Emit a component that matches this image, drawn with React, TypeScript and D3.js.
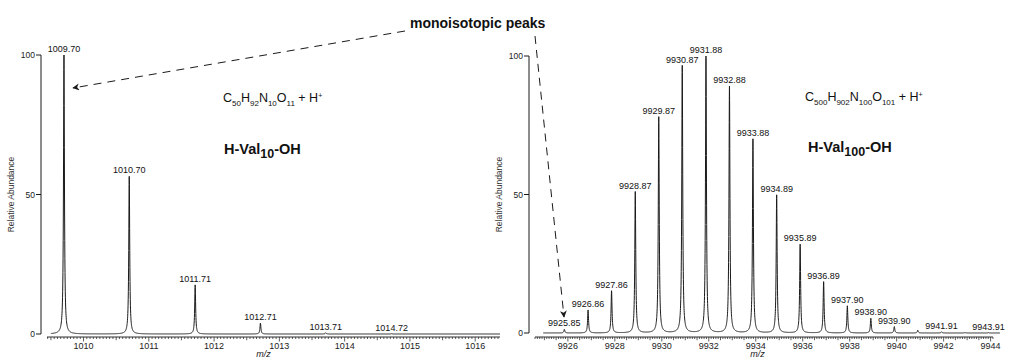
import React from "react";
import * as d3 from "d3";

// Peak lists: m/z and relative abundance (%)
const valOligo10Mz = [1009.7, 1010.7, 1011.71, 1012.71, 1013.71, 1014.72];
const valOligo10Int = [100, 56.5, 17.6, 3.9, 0.45, 0.12];
const valOligo10Labels = ["1009.70", "1010.70", "1011.71", "1012.71", "1013.71", "1014.72"];

const valOligo100Mz = [
  9925.85, 9926.86, 9927.86, 9928.87, 9929.87, 9930.87, 9931.88, 9932.88, 9933.88,
  9934.89, 9935.89, 9936.89, 9937.9, 9938.9, 9939.9, 9940.9, 9941.91, 9942.91, 9943.91,
];
const valOligo100Int = [
  1.3, 8.3, 15.2, 51, 78, 96.5, 100, 89, 70, 49.8, 32, 18.5, 9.8, 5.3, 2.3, 1.0, 0.45, 0.2, 0.12,
];
const valOligo100Labels = [
  "9925.85", "9926.86", "9927.86", "9928.87", "9929.87", "9930.87", "9931.88", "9932.88", "9933.88",
  "9934.89", "9935.89", "9936.89", "9937.90", "9938.90", "9939.90", "", "9941.91", "", "9943.91",
];

const yTicks = [0, 50, 100];
const leftTickLabels = [1010, 1011, 1012, 1013, 1014, 1015, 1016];
const rightTickLabels = [9926, 9928, 9930, 9932, 9934, 9936, 9938, 9940, 9942, 9944];

const FONT = "Liberation Sans, Arial, Helvetica, sans-serif";
const INK = "#1a1a1a";

// Lorentzian profile summed over all peaks
function profile(mz: number[], inten: number[], hw: number, x0: number, x1: number, step: number) {
  const xs: number[] = [];
  const n = Math.round((x1 - x0) / step);
  for (let i = 0; i <= n; i++) xs.push(x0 + i * step);
  mz.forEach((m) => xs.push(m));
  xs.sort((a, b) => a - b);
  return xs.map((x) => {
    let y = 0;
    for (let k = 0; k < mz.length; k++) {
      const u = (x - mz[k]) / hw;
      y += inten[k] / (1 + u * u);
    }
    return [x, Math.min(y, 100)] as [number, number];
  });
}

type PanelProps = {
  mz: number[];
  inten: number[];
  labels: string[];
  domain: [number, number];
  range: [number, number];
  yRange: [number, number];
  axisX: number;
  rulerY: number;
  hw: number;
  step: number;
  minorPerUnit: number;
  labelEvery: number;
  tickLabels: number[];
  curveDomain: [number, number];
  rulerEnd: number;
};

function Panel(p: PanelProps) {
  const x = d3.scaleLinear().domain(p.domain).range(p.range);
  const y = d3.scaleLinear().domain([0, 100]).range(p.yRange);
  const pts = profile(p.mz, p.inten, p.hw, p.curveDomain[0], p.curveDomain[1], p.step);
  const line = d3
    .line<[number, number]>()
    .x((d) => x(d[0]))
    .y((d) => y(d[1]));

  const ticks: { v: number; len: number }[] = [];
  const k0 = Math.ceil(p.domain[0] * p.minorPerUnit);
  const k1 = Math.floor(p.rulerEnd * p.minorPerUnit);
  for (let k = k0; k <= k1; k++) {
    const v = k / p.minorPerUnit;
    const big = k % (p.minorPerUnit * p.labelEvery) === 0;
    const mid = k % (p.minorPerUnit / 2) === 0;
    ticks.push({ v, len: big ? 4.5 : mid ? 3.2 : 2 });
  }

  return (
    <g>
      {/* y axis */}
      <line x1={p.axisX} x2={p.axisX} y1={y(100)} y2={y(0)} stroke={INK} strokeWidth={1} />
      {yTicks.map((t) => (
        <g key={t}>
          <line x1={p.axisX - 5} x2={p.axisX} y1={y(t)} y2={y(t)} stroke={INK} strokeWidth={1} />
          <text x={p.axisX - 6} y={y(t) + 3} fontSize={8.5} textAnchor="end" fill="#222" fontFamily={FONT}>
            {t}
          </text>
        </g>
      ))}
      <text
        transform={`translate(${p.axisX - 27},${(y(0) + y(100)) / 2}) rotate(-90)`}
        textAnchor="middle"
        fontSize={8.5}
        fill="#333"
        fontFamily={FONT}
      >
        Relative Abundance
      </text>

      {/* x ruler */}
      <line x1={p.range[0]} x2={x(p.rulerEnd)} y1={p.rulerY} y2={p.rulerY} stroke={INK} strokeWidth={0.9} />
      {ticks.map((t, i) => (
        <line
          key={i}
          x1={x(t.v)}
          x2={x(t.v)}
          y1={p.rulerY}
          y2={p.rulerY + t.len}
          stroke={INK}
          strokeWidth={0.7}
        />
      ))}
      {p.tickLabels.map((t) => (
        <text key={t} x={x(t)} y={p.rulerY + 12} fontSize={9} textAnchor="middle" fill="#222" fontFamily={FONT}>
          {t}
        </text>
      ))}
      <text
        x={(p.range[0] + p.range[1]) / 2 - 10}
        y={p.rulerY + 20}
        fontSize={9}
        fontStyle="italic"
        textAnchor="middle"
        fill="#222"
        fontFamily={FONT}
      >
        m/z
      </text>

      {/* spectrum */}
      <path d={line(pts) || ""} fill="none" stroke={INK} strokeWidth={1} strokeLinejoin="round" />
      {p.mz.map((m, i) =>
        p.labels[i] ? (
          <text
            key={i}
            x={x(m)}
            y={y(p.inten[i]) - 3}
            fontSize={9}
            textAnchor="middle"
            fill="#111"
            fontFamily={FONT}
          >
            {p.labels[i]}
          </text>
        ) : null
      )}
    </g>
  );
}

function Formula({ x, y, parts }: { x: number; y: number; parts: [string, string][] }) {
  return (
    <text x={x} y={y} fontFamily={FONT} fontSize={12.5} fill="#111">
      {parts.map(([el, n], i) => (
        <React.Fragment key={i}>
          <tspan dy={i === 0 ? 0 : -3.5}>{el}</tspan>
          <tspan fontSize={8} dy={3.5}>
            {n}
          </tspan>
        </React.Fragment>
      ))}
      <tspan dy={-3.5}> + H</tspan>
      <tspan fontSize={7} dy={-4}>
        +
      </tspan>
    </text>
  );
}

function Peptide({ x, y, n }: { x: number; y: number; n: string }) {
  return (
    <text x={x} y={y} fontFamily={FONT} fontSize={14.5} fontWeight="bold" fill="#111">
      H-Val
      <tspan fontSize={12.5} dy={4}>
        {n}
      </tspan>
      <tspan dy={-4}>-OH</tspan>
    </text>
  );
}

export default function App() {
  return (
    <svg
      width={1013}
      height={363}
      viewBox="0 0 1013 363"
      style={{ position: "absolute", left: 0, top: 0, background: "#fff" }}
    >
      <defs>
        <marker id="head" viewBox="0 0 10 10" refX={9} refY={5} markerWidth={8} markerHeight={7} orient="auto">
          <path d="M0,0 L10,5 L0,10 L3,5 z" fill={INK} />
        </marker>
      </defs>
      <rect width={1013} height={363} fill="#fff" />

      <Panel
        mz={valOligo10Mz}
        inten={valOligo10Int}
        labels={valOligo10Labels}
        domain={[1009.44, 1016.38]}
        range={[47, 500]}
        yRange={[334, 55]}
        axisX={41}
        rulerY={337}
        hw={0.0085}
        step={0.002}
        minorPerUnit={20}
        labelEvery={1}
        tickLabels={leftTickLabels}
        curveDomain={[1009.5, 1016.38]}
        rulerEnd={1016.38}
      />
      <Panel
        mz={valOligo100Mz}
        inten={valOligo100Int}
        labels={valOligo100Labels}
        domain={[9924.6, 9944.4]}
        range={[535, 1000]}
        yRange={[333, 56]}
        axisX={529}
        rulerY={337}
        hw={0.024}
        step={0.004}
        minorPerUnit={10}
        labelEvery={2}
        tickLabels={rightTickLabels}
        curveDomain={[9924.95, 9944.4]}
        rulerEnd={9944.1}
      />

      <Formula x={223} y={102} parts={[["C", "50"], ["H", "92"], ["N", "10"], ["O", "11"]]} />
      <Peptide x={224} y={154} n="10" />
      <Formula x={805} y={101} parts={[["C", "500"], ["H", "902"], ["N", "100"], ["O", "101"]]} />
      <Peptide x={808} y={152} n="100" />

      <text x={410} y={28} fontFamily={FONT} fontSize={14} fontWeight="bold" fill="#111">
        monoisotopic peaks
      </text>
      <line x1={405} y1={31} x2={73} y2={88} stroke={INK} strokeWidth={1} strokeDasharray="8,6" markerEnd="url(#head)" />
      <line x1={535} y1={36} x2={564} y2={317} stroke={INK} strokeWidth={1} strokeDasharray="8,6" markerEnd="url(#head)" />
    </svg>
  );
}
